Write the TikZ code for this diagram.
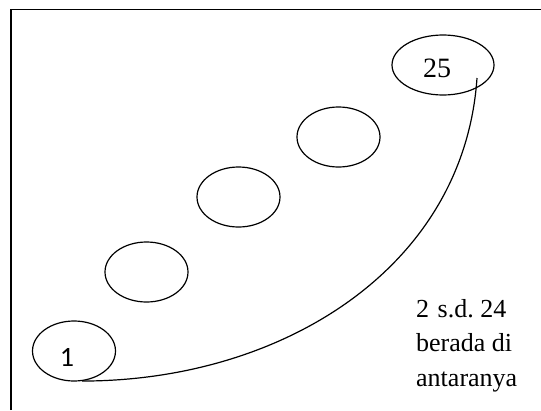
\documentclass[tikz,border=0pt]{standalone}
\usepackage{fontspec}
\setmainfont{Liberation Serif}
\newfontfamily\calibrifont{Carlito}
\usepackage{tikz}
\usetikzlibrary{shapes,calc}

\begin{document}
\begin{tikzpicture}[x=1pt,y=-1pt,
    blob/.style={draw,ellipse,line width=1.2pt,inner sep=0pt,minimum width=83pt,minimum height=60pt},
    num/.style={font=\fontsize{28}{34}\selectfont,inner sep=0pt},
    note/.style={font=\fontsize{26}{34.5}\selectfont,align=left,inner sep=0pt},
    arc/.style={line width=1.2pt}
]
\useasboundingbox (0,0) rectangle (541,410);
\draw[line width=1.3pt] (11,410) -- (11,9.5) -- (541,9.5);

\node[blob] (one) at (74,351) {};
\node[blob] (two) at (146.5,272) {};
\node[blob] (three) at (238.5,197) {};
\node[blob] (four) at (338.5,137) {};
\node[blob,minimum width=102pt] (last) at (443,65) {};

\node[num,font=\calibrifont\fontsize{28}{34}\selectfont] (lbl1) at ($(one)+(-7,6)$) {1};
\node[num] (lbl25) at ($(last)+(-6,3)$) {25};

\coordinate (tip) at ($(last)+(34,13)$);
\draw[arc] (one.-75) .. controls +(200,0) and +(-13,190) .. (tip);

\node[note,anchor=north west] (txt) at (416,299) {2\hspace{8.5pt}s.d.\hspace{6.5pt}24\\berada di\\antaranya};
\end{tikzpicture}
\end{document}
